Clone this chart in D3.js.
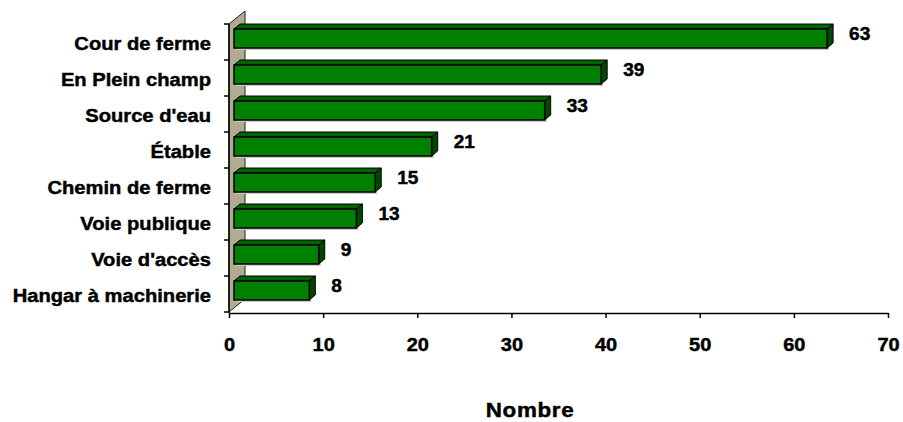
<!DOCTYPE html>
<html>
<head>
<meta charset="utf-8">
<script src="https://cdn.jsdelivr.net/npm/d3@7"></script>
<style>
  html, body { margin: 0; padding: 0; background: #ffffff; }
  svg { display: block; }
  text { font-family: "Liberation Sans", Arial, sans-serif; font-weight: bold; fill: #000; stroke: #000; stroke-width: 0.45px; }
</style>
</head>
<body>
<svg id="chart" width="903" height="422"></svg>
<script>
const categories = ["Cour de ferme", "En Plein champ", "Source d'eau", "Étable",
  "Chemin de ferme", "Voie publique", "Voie d'accès", "Hangar à machinerie"];
const values = [63, 39, 33, 21, 15, 13, 9, 8];
const xTicks = [0, 10, 20, 30, 40, 50, 60, 70];
const axisTitle = "Nombre";

const svg = d3.select("#chart");

const x = d3.scaleLinear().domain([0, 70]).range([229, 888]);
const y = d3.scaleBand().domain(categories).range([24, 312]).padding(0);

// 3D geometry
const wallDX = 16, wallDY = 13;
const barDX = 6, barDY = 5;
const barOff = 5;
const barTop = 5, barH = 19;

const y0 = y.range()[0], y1 = y.range()[1], x0 = x(0);

// left wall
svg.append("path")
  .attr("d", `M${x0},${y0} L${x0 + wallDX},${y0 - wallDY} L${x0 + wallDX},${y1 - wallDY} L${x0},${y1} Z`)
  .attr("fill", "#b0ac93")
  .attr("stroke", "#222")
  .attr("stroke-width", 1);

// bars
const g = svg.append("g");
categories.forEach((c, i) => {
  const v = values[i];
  const xl = x(0) + barOff, xr = x(v) + barOff;
  const yt = y(c) + barTop, yb = yt + barH;
  g.append("rect").attr("x", xl + 2).attr("y", yt + 2).attr("width", xr - xl).attr("height", barH)
    .attr("fill", "#c8c8c8");
  g.append("path")
    .attr("d", `M${xl},${yt} L${xl + barDX},${yt - barDY} L${xr + barDX},${yt - barDY} L${xr},${yt} Z`)
    .attr("fill", "#006400").attr("stroke", "#000").attr("stroke-width", 1).attr("stroke-linejoin", "round");
  g.append("path")
    .attr("d", `M${xr},${yt} L${xr + barDX},${yt - barDY} L${xr + barDX},${yb - barDY} L${xr},${yb} Z`)
    .attr("fill", "#004800").attr("stroke", "#000").attr("stroke-width", 1).attr("stroke-linejoin", "round");
  g.append("rect").attr("x", xl).attr("y", yt).attr("width", xr - xl).attr("height", barH)
    .attr("fill", "#008000").attr("stroke", "#000").attr("stroke-width", 1.5);
  svg.append("text")
    .attr("transform", `translate(${xr + barDX + 16},${y(c) + 16}) scale(1.06,1)`)
    .attr("font-size", 18)
    .text(v);
});

// left axis line + ticks at band boundaries
const boundaries = categories.map(c => y(c)).concat([y1]);
svg.append("line").attr("x1", x0).attr("x2", x0).attr("y1", y0).attr("y2", y1 + 1)
  .attr("stroke", "#000").attr("stroke-width", 1.5);
svg.selectAll(".ytick").data(boundaries).enter().append("line")
  .attr("x1", x0 - 5).attr("x2", x0).attr("y1", d => d).attr("y2", d => d)
  .attr("stroke", "#000").attr("stroke-width", 1.5);

// category labels
svg.selectAll(".cat").data(categories).enter().append("text")
  .attr("transform", d => `translate(211,${y(d) + 26}) scale(1.09,1)`)
  .attr("text-anchor", "end")
  .attr("font-size", 18.5)
  .text(d => d);

// bottom axis
const xAxis = d3.axisBottom(x).tickValues(xTicks).tickSize(5).tickPadding(20).tickSizeOuter(0);
const ax = svg.append("g").attr("transform", `translate(0,${y1 + 1})`).call(xAxis);
ax.select(".domain").attr("stroke", "#000").attr("stroke-width", 1.5);
ax.selectAll(".tick line").attr("stroke", "#000").attr("stroke-width", 1.5);
ax.selectAll(".tick text")
  .attr("font-family", "Liberation Sans, Arial, sans-serif")
  .attr("font-weight", "bold")
  .attr("font-size", 18.5)
  .attr("fill", "#000")
  .style("transform-box", "fill-box")
  .style("transform-origin", "center")
  .style("transform", "scaleX(1.08)");

// axis title
svg.append("text")
  .attr("transform", `translate(530,417) scale(1.12,1)`)
  .attr("text-anchor", "middle")
  .attr("font-size", 20)
  .attr("letter-spacing", 0.6)
  .text(axisTitle);
</script>
</body>
</html>
